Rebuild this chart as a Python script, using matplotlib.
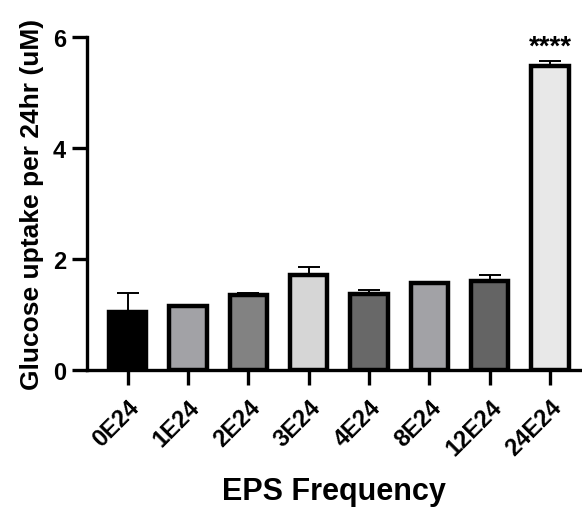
import matplotlib
matplotlib.use("Agg")
import matplotlib.pyplot as plt

# --- data ---
groups = ["0E24", "1E24", "2E24", "3E24", "4E24", "8E24", "12E24", "24E24"]
means = [1.04, 1.14, 1.35, 1.70, 1.36, 1.57, 1.60, 5.47]
errors = [0.34, 0.03, 0.03, 0.15, 0.08, 0.02, 0.10, 0.10]
fills = ["#000000", "#a2a2a6", "#828282", "#d6d6d6", "#686868", "#a2a2a6", "#646464", "#e8e8e8"]
stars = {7: "****"}

plt.rcParams["font.family"] = ["Liberation Sans", "DejaVu Sans"]
plt.rcParams["font.weight"] = "bold"

fig = plt.figure(figsize=(5.82, 5.10), dpi=100)
ax = fig.add_axes([0.149, 0.273, 0.85, 0.653])

x = list(range(len(groups)))
ax.bar(x, means, width=0.62, color=fills, edgecolor="black", linewidth=3.2, zorder=2)
ax.errorbar(x, means, yerr=[[0] * len(errors), errors], fmt="none", ecolor="black",
            elinewidth=1.4, capsize=8, capthick=1.4, zorder=1)

for i, s in stars.items():
    ax.text(i, means[i] + errors[i] + 0.02, s, ha="center", va="bottom",
            fontsize=20, fontweight="bold")

ax.set_xlim(-0.68, 7.52)
ax.set_ylim(0, 6)
ax.set_yticks([0, 2, 4, 6])
ax.set_xticks(x)
ax.set_xticklabels(groups, rotation=45, ha="right", rotation_mode="anchor")

for side in ["top", "right"]:
    ax.spines[side].set_visible(False)
for side in ["left", "bottom"]:
    ax.spines[side].set_linewidth(2.4)
ax.tick_params(axis="both", width=2.4, length=11, labelsize=17, pad=4)
ax.tick_params(axis="x", pad=7)

ax.set_ylabel("Glucose uptake per 24hr (uM)", fontsize=19, fontweight="bold", labelpad=6)
ax.set_xlabel("EPS Frequency", fontsize=22, fontweight="bold", labelpad=12)

fig.savefig("out.png", dpi=100)
